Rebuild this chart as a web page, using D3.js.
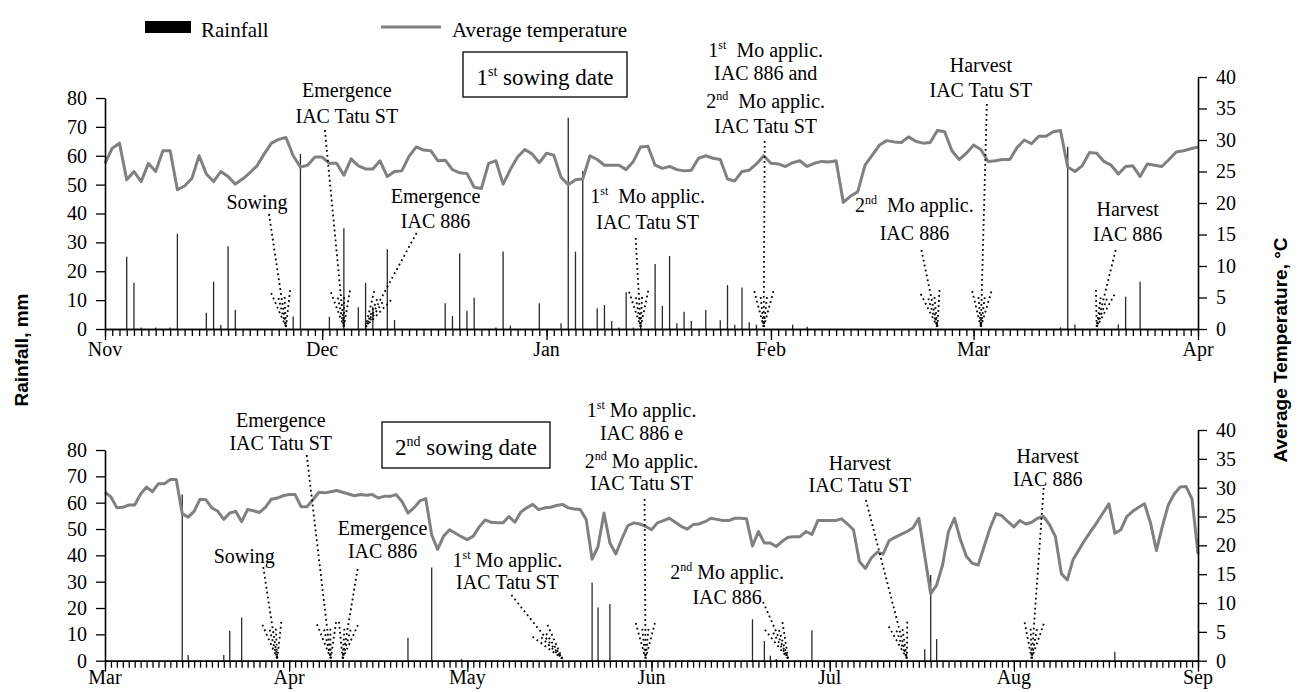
<!DOCTYPE html>
<html><head><meta charset="utf-8">
<script src="https://cdn.jsdelivr.net/npm/d3@7"></script>
<style>
body{margin:0;background:#fff;}
svg{display:block;}
</style></head><body>
<svg id="c" width="1305" height="692"></svg>
<script>
// ================= DATA =================
// Nominal (non-leap) years; daily series start at the first date.
const season1Start = "2001-11-01", season1End = "2002-04-01";
const season2Start = "2002-03-01", season2End = "2002-09-01";
const rainTicks = [0,10,20,30,40,50,60,70,80];
const tempTicks = [0,5,10,15,20,25,30,35,40];

// Average temperature (°C), daily, 1st sowing date (Nov 1 .. Apr 1)
const temp1 = [
26.3,28.7,29.5,23.7,25.0,23.4,26.3,25.0,28.3,28.3,
22.1,22.7,23.9,27.5,24.6,23.4,25.0,24.2,23.0,23.8,
24.8,25.9,27.8,29.5,30.1,30.4,27.5,25.7,26.0,27.3,
27.3,26.3,26.3,24.4,27.0,25.9,25.4,25.4,26.7,24.2,
25.0,25.1,27.4,28.9,28.4,28.3,26.7,26.8,25.3,24.8,
24.7,22.5,22.3,26.3,26.7,23.0,25.3,27.3,28.5,27.8,
26.4,27.9,27.6,24.1,22.9,23.7,23.8,27.5,26.9,26.0,
26.0,26.0,25.3,26.6,28.9,29.0,26.0,25.5,25.8,25.3,
25.1,25.2,27.1,27.5,27.1,26.9,23.8,23.5,25.0,25.2,
26.2,27.5,26.3,26.2,25.8,26.4,26.7,25.8,26.3,26.6,
26.5,26.7,20.1,21.1,21.8,26.0,27.6,29.2,29.9,29.7,
29.6,30.5,29.8,29.5,29.6,31.5,31.3,28.3,26.9,27.9,
29.2,28.5,26.6,26.7,26.9,26.9,28.8,30.0,29.4,30.6,
30.6,31.3,31.5,25.7,25.0,25.9,28.0,27.9,26.6,26.0,
24.6,25.8,25.9,24.2,26.2,26.0,25.8,26.9,28.1,28.3,
28.6,28.9];

// Rainfall (mm), 1st sowing date
const rain1Dates = ["2001-11-04","2001-11-05","2001-11-06","2001-11-08","2001-11-10","2001-11-11","2001-11-15","2001-11-16","2001-11-17","2001-11-18","2001-11-19","2001-11-27","2001-11-28",
"2001-12-02","2001-12-04","2001-12-06","2001-12-07","2001-12-08","2001-12-10","2001-12-11","2001-12-18","2001-12-19","2001-12-20","2001-12-21","2001-12-22","2001-12-25","2001-12-26","2001-12-27","2001-12-31",
"2002-01-03","2002-01-04","2002-01-05","2002-01-06","2002-01-08","2002-01-09","2002-01-10","2002-01-11","2002-01-12","2002-01-13","2002-01-14","2002-01-16","2002-01-17","2002-01-18","2002-01-19","2002-01-20","2002-01-21","2002-01-23","2002-01-25","2002-01-26","2002-01-27","2002-01-28","2002-01-29","2002-01-30",
"2002-02-04","2002-02-06","2002-03-13","2002-03-14","2002-03-15","2002-03-21","2002-03-22","2002-03-24"];
const rain1Mm = [25,16,0.5,0.5,0.5,33,5.6,16.4,1.4,28.7,6.6,4.3,60.6,
4.2,34.9,7.5,16,7.7,27.6,3.1,8.9,4.5,26.2,6.3,10.8,0.5,26.8,1.2,8.9,
2,73.2,26.8,54.7,7.2,8.3,2.8,0.5,12.7,0.5,0.8,22.5,8,25.3,2,6,2.8,6.6,3,15.2,1.5,14.4,2.3,1.5,
1.5,0.8,0.6,63.1,1.6,1.6,11.2,16.4];

// Average temperature (°C), daily, 2nd sowing date (Mar 1 .. Sep 1)
const temp2 = [
29.2,28.4,26.5,26.6,27.0,27.0,28.9,30.1,29.3,30.7,
30.7,31.4,31.4,25.5,24.9,25.9,28.0,27.9,26.5,25.9,
24.5,25.6,25.9,24.1,26.2,26.0,25.7,26.6,28.0,28.2,
28.6,28.8,28.8,26.7,26.7,27.9,29.2,29.1,29.3,29.5,
29.2,28.9,28.6,28.8,28.7,28.8,28.2,28.5,28.5,28.8,
27.6,25.6,26.5,27.7,28.1,21.8,19.3,21.6,22.7,22.1,
21.5,21.0,21.6,23.2,24.4,24.0,23.9,23.9,25.0,24.0,
25.8,26.5,27.1,26.2,26.5,26.6,26.9,27.1,26.5,26.3,
26.2,24.5,17.6,19.8,25.6,20.4,18.5,21.1,23.4,23.9,
23.7,23.3,22.7,23.9,24.3,24.7,24.0,23.3,22.8,23.6,
23.7,24.1,24.7,24.5,24.3,24.3,24.7,24.7,24.6,19.9,
22.4,20.4,20.4,19.8,20.7,21.4,21.5,21.5,22.4,21.9,
24.3,24.3,24.3,24.3,24.6,23.7,22.7,17.2,16.0,17.8,
18.8,18.5,20.8,21.4,21.9,22.4,23.0,24.7,18.2,11.6,
13.1,16.6,22.4,24.7,21.0,18.1,16.9,16.6,19.8,23.0,
25.5,25.1,24.1,23.2,24.3,23.7,24.0,24.7,25.0,23.6,
21.5,15.1,14.0,17.6,19.3,21.0,22.5,24.0,25.6,27.2,
22.1,22.7,25.0,25.9,26.6,27.2,23.9,19.1,23.3,27.0,
28.9,30.1,30.2,28.0,18.5];

// Rainfall (mm), 2nd sowing date
const rain2Dates = ["2002-03-14","2002-03-15","2002-03-21","2002-03-22","2002-03-24","2002-04-21","2002-04-25","2002-04-30",
"2002-05-22","2002-05-23","2002-05-25","2002-06-18","2002-06-20","2002-06-21","2002-06-22","2002-06-28",
"2002-07-17","2002-07-18","2002-07-19","2002-08-18"];
const rain2Mm = [63.1,2.2,2.2,11.4,16.4,8.7,35.4,0.6,29.7,20.2,21.5,15.7,7.5,1.9,0.6,11.6,4.3,32.5,8.2,3.4];

// Crop events (label lines; "^x^" = superscript)
const events1Dates = ["2001-11-26","2001-12-04","2001-12-07","2002-01-14","2002-01-31","2002-02-24","2002-03-02","2002-03-18"];
const events1Labels = [["Sowing"],["Emergence","IAC Tatu ST"],["Emergence","IAC 886"],["1^st^  Mo applic.","IAC Tatu ST"],
  ["1^st^  Mo applic.","IAC 886 and","2^nd^  Mo applic.","IAC Tatu ST"],["2^nd^  Mo applic.","IAC 886"],["Harvest","IAC Tatu ST"],["Harvest","IAC 886"]];
const events2Dates = ["2002-03-30","2002-04-08","2002-04-10","2002-05-17","2002-05-31","2002-06-24","2002-07-14","2002-08-04"];
const events2Labels = [["Sowing"],["Emergence","IAC Tatu ST"],["Emergence","IAC 886"],["1^st^ Mo applic.","IAC Tatu ST"],
  ["1^st^ Mo applic.","IAC 886 e","2^nd^ Mo applic.","IAC Tatu ST"],["2^nd^ Mo applic.","IAC 886"],["Harvest","IAC Tatu ST"],["Harvest","IAC 886"]];
const panelTitles = ["1^st^ sowing date","2^nd^ sowing date"];

// ================= LAYOUT =================
const SERIF = "'Liberation Serif','Times New Roman',serif";
const SANS = "'Liberation Sans',Arial,sans-serif";
const X0 = 105, X1 = 1198;
// text dx from arrow tip, line baselines, shaft start (dx from tip, y)
const layout1 = [
  {tdx:-29, base:[209], sdx:-17, sy:214},
  {tdx:3, base:[97,122.5], sdx:-19, sy:130},
  {tdx:70, base:[203,228], sdx:51, sy:233},
  {tdx:7, base:[203,229], sdx:-5, sy:238},
  {tdx:2, base:[57,80,108,132.5], sdx:1, sy:141},
  {tdx:-23, base:[212,240], sdx:-16, sy:250},
  {tdx:0, base:[72,97], sdx:6, sy:104},
  {tdx:31, base:[216,241], sdx:19, sy:250}
];
const layout2 = [
  {tdx:-33, base:[563], sdx:-14, sy:567},
  {tdx:-50, base:[427,450], sdx:-24, sy:455},
  {tdx:40, base:[535,558], sdx:15, sy:569},
  {tdx:-55, base:[567,588.5], sdx:-51, sy:595},
  {tdx:-4, base:[417,439.5,468,490], sdx:-1, sy:499},
  {tdx:-61, base:[578.5,604], sdx:-25, sy:602},
  {tdx:-47, base:[470,491.5], sdx:-41, sy:500},
  {tdx:16, base:[462.7,486], sdx:12, sy:488}
];
const panels = [
  {start:season1Start,end:season1End,axisY:329,rainTop:98,tempTop:77,monthBase:356,
   temp:temp1,rainDates:rain1Dates,rainMm:rain1Mm,evDates:events1Dates,evLabels:events1Labels,lay:layout1,
   title:panelTitles[0],box:{x:463,y:52,w:164,h:45,base:85}},
  {start:season2Start,end:season2End,axisY:660.7,rainTop:450,tempTop:430,monthBase:684,
   temp:temp2,rainDates:rain2Dates,rainMm:rain2Mm,evDates:events2Dates,evLabels:events2Labels,lay:layout2,
   title:panelTitles[1],box:{x:382,y:422,w:168,h:46,base:455}}
];

const svg = d3.select("#c");
const parse = d3.utcParse("%Y-%m-%d");

function richText(sel, str, size, supSize){
  const parts = str.split("^");
  parts.forEach((s,i)=>{
    if(!s) return;
    const t = sel.append("tspan").text(s);
    if(i%2===1){ t.attr("font-size",supSize).attr("dy",-size*0.4); }
    else if(i>0){ t.attr("dy",size*0.4); }
  });
}

function dotted(g, x0,y0,x1,y1){
  g.append("line").attr("x1",x0).attr("y1",y0).attr("x2",x1).attr("y2",y1)
   .attr("stroke","#000").attr("stroke-width",1.8).attr("stroke-dasharray","1.8,3.2");
}
function arrow(g, x0,y0,x1,y1){
  dotted(g,x0,y0,x1,y1);
  const L = Math.hypot(x0-x1,y0-y1), ux=(x0-x1)/L, uy=(y0-y1)/L;
  [[15,37],[-15,37],[6,30],[-6,30]].forEach(([a,len])=>{
    const r=a*Math.PI/180, c=Math.cos(r), s=Math.sin(r);
    const vx = ux*c - uy*s, vy = ux*s + uy*c;
    dotted(g, x1+vx*len, y1+vy*len, x1, y1);
  });
}

panels.forEach(p=>{
  const start = parse(p.start);
  const x = d3.scaleUtc().domain([start, parse(p.end)]).range([X0,X1]);
  const yR = d3.scaleLinear().domain([0,80]).range([p.axisY,p.rainTop]);
  const yT = d3.scaleLinear().domain([0,40]).range([p.axisY,p.tempTop]);
  const g = svg.append("g");

  // rainfall bars
  g.append("g").selectAll("line").data(p.rainMm).join("line")
    .attr("x1",(d,i)=>x(parse(p.rainDates[i]))).attr("x2",(d,i)=>x(parse(p.rainDates[i])))
    .attr("y1",yR(0)).attr("y2",d=>yR(d))
    .attr("stroke","#2a2a2a").attr("stroke-width",1.3);

  // temperature line
  g.append("path").datum(p.temp)
    .attr("d", d3.line().x((d,i)=>x(d3.utcDay.offset(start,i))).y(d=>yT(d)))
    .attr("fill","none").attr("stroke","#808080").attr("stroke-width",3).attr("stroke-linejoin","round");

  // axes
  const styleAxis = a=>{
    a.attr("font-family",SERIF).attr("font-size",20);
    a.selectAll(".domain").attr("stroke","#000").attr("stroke-width",1.6);
    a.selectAll(".tick line").attr("stroke","#000").attr("stroke-width",1.3);
    a.selectAll(".tick text").attr("fill","#000");
  };
  g.append("g").attr("transform",`translate(${X0},0)`)
    .call(d3.axisLeft(yR).tickValues(rainTicks).tickSize(9).tickPadding(9).tickSizeOuter(0)).call(styleAxis);
  g.append("g").attr("transform",`translate(${X1},0)`)
    .call(d3.axisRight(yT).tickValues(tempTicks).tickSize(9).tickPadding(9).tickSizeOuter(0)).call(styleAxis);
  g.append("g").attr("transform",`translate(0,${p.axisY})`)
    .call(d3.axisBottom(x).ticks(d3.utcDay.every(1)).tickSize(7).tickFormat("").tickSizeOuter(0)).call(styleAxis);
  g.append("g").attr("transform",`translate(0,${p.axisY})`)
    .call(d3.axisBottom(x).ticks(d3.utcMonth.every(1)).tickSize(11).tickFormat("").tickSizeOuter(0)).call(styleAxis);
  g.append("g").selectAll("text").data(x.ticks(d3.utcMonth.every(1))).join("text")
    .attr("x",d=>x(d)).attr("y",p.monthBase).attr("text-anchor","middle")
    .attr("font-family",SERIF).attr("font-size",20).text(d3.utcFormat("%b"));

  // events
  const ag = g.append("g");
  p.evDates.forEach((ds,i)=>{
    const l = p.lay[i];
    const tx = x(parse(ds)), ty = p.axisY-2;
    p.evLabels[i].forEach((line,j)=>{
      const t = ag.append("text").attr("x",tx+l.tdx).attr("y",l.base[j]).attr("text-anchor","middle")
        .attr("font-family",SERIF).attr("font-size",20).style("white-space","pre");
      richText(t,line,20,12);
    });
    arrow(ag, tx+l.sdx, l.sy, tx, ty);
  });

  // title box
  g.append("rect").attr("x",p.box.x).attr("y",p.box.y).attr("width",p.box.w).attr("height",p.box.h)
    .attr("fill","#fff").attr("stroke","#000").attr("stroke-width",1.3);
  const tt = g.append("text").attr("x",p.box.x+p.box.w/2).attr("y",p.box.base).attr("text-anchor","middle")
    .attr("font-family",SERIF).attr("font-size",23).style("white-space","pre");
  richText(tt,p.title,23,14);
});

// axis titles
svg.append("text").attr("transform","translate(28,350) rotate(-90)").attr("text-anchor","middle")
  .attr("font-family",SANS).attr("font-weight","bold").attr("font-size",19).text("Rainfall, mm");
svg.append("text").attr("transform","translate(1287,350) rotate(-90)").attr("text-anchor","middle")
  .attr("font-family",SANS).attr("font-weight","bold").attr("font-size",19).text("Average Temperature, °C");

// legend
svg.append("rect").attr("x",145).attr("y",21).attr("width",46).attr("height",12).attr("fill","#000");
svg.append("text").attr("x",201).attr("y",37).attr("font-family",SERIF).attr("font-size",21).text("Rainfall");
svg.append("line").attr("x1",381).attr("x2",441).attr("y1",27).attr("y2",27).attr("stroke","#808080").attr("stroke-width",3);
svg.append("text").attr("x",452).attr("y",37).attr("font-family",SERIF).attr("font-size",21).text("Average temperature");
</script>
</body></html>
